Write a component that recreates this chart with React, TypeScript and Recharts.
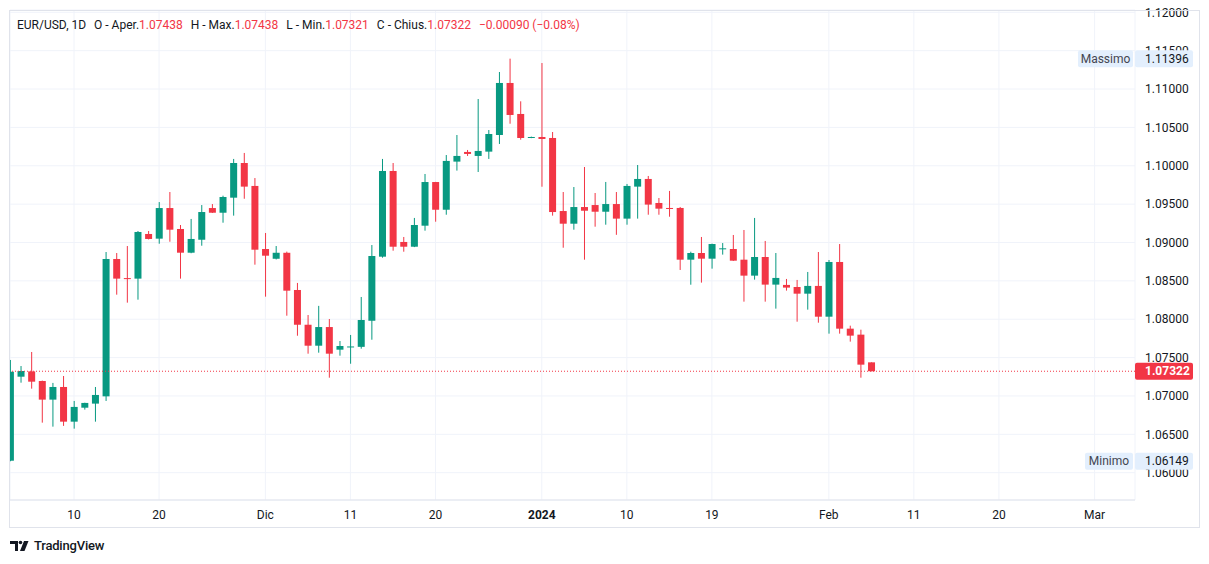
import { Bar, CartesianGrid, ComposedChart, ReferenceLine, XAxis, YAxis } from "recharts";

// EUR/USD daily candles, Nov 3 2023 -> Feb 6 2024 (index = bar number)
const opens = [
  1.06156, 1.07251, 1.0732, 1.07195, 1.06952, 1.07117, 1.06665, 1.06847, 1.069, 1.06995,
  1.08785, 1.08536, 1.08529, 1.09111, 1.0905, 1.09449, 1.09176, 1.08867, 1.09036, 1.09449,
  1.09388, 1.09584, 1.10036, 1.09737, 1.08915, 1.08788, 1.08866, 1.08381, 1.07928, 1.07655,
  1.07898, 1.07603, 1.0764, 1.0764, 1.0798, 1.08815, 1.09932, 1.09007, 1.08945, 1.09219,
  1.09788, 1.09427, 1.10054, 1.1018, 1.10128, 1.10184, 1.10401, 1.11079, 1.10675, 1.10362,
  1.10375, 1.10362, 1.0941, 1.09245, 1.09462, 1.09488, 1.09401, 1.09501, 1.09311, 1.09728,
  1.09828, 1.09515, 1.0945, 1.0945, 1.08776, 1.08863, 1.08789, 1.0892, 1.08915, 1.08776,
  1.08568, 1.08811, 1.08451, 1.08447, 1.0842, 1.08333, 1.08434, 1.08033, 1.08746, 1.07877,
  1.07799, 1.07438,
];
const highs = [
  1.07469, 1.0739, 1.07573, 1.072, 1.0717, 1.0726, 1.06935, 1.06912, 1.07117, 1.08876,
  1.08863, 1.08954, 1.0915, 1.0915, 1.09527, 1.09658, 1.09228, 1.09307, 1.09488, 1.09501,
  1.0961, 1.10089, 1.10167, 1.0984, 1.09124, 1.08954, 1.08881, 1.08473, 1.08055, 1.08174,
  1.08003, 1.07716, 1.07795, 1.0829, 1.08967, 1.10089, 1.10036, 1.09072, 1.0932, 1.09893,
  1.0979, 1.1014, 1.10401, 1.10206, 1.1087, 1.10466, 1.11222, 1.11396, 1.1084, 1.1038,
  1.11339, 1.1044, 1.09658, 1.09723, 1.09984, 1.09645, 1.09789, 1.09658, 1.09763, 1.1001,
  1.09867, 1.0958, 1.09672, 1.09463, 1.0888, 1.09072, 1.08985, 1.08993, 1.09098, 1.09163,
  1.0932, 1.0902, 1.08863, 1.08525, 1.08512, 1.08616, 1.08876, 1.08772, 1.0898, 1.07916,
  1.07864, 1.07438,
];
const lows = [
  1.06149, 1.07173, 1.07095, 1.06652, 1.066, 1.0661, 1.06574, 1.06822, 1.06665, 1.06935,
  1.0832, 1.08216, 1.08255, 1.0904, 1.08984, 1.0901, 1.08529, 1.0886, 1.08958, 1.09385,
  1.09258, 1.0935, 1.0957, 1.08711, 1.08294, 1.08779, 1.08046, 1.07785, 1.07551, 1.07564,
  1.07238, 1.07525, 1.0742, 1.07616, 1.07733, 1.08802, 1.08893, 1.0888, 1.0894, 1.09154,
  1.09271, 1.09362, 1.09937, 1.10128, 1.09919, 1.10089, 1.10284, 1.10548, 1.1034, 1.1036,
  1.09727, 1.0935, 1.08932, 1.09167, 1.08776, 1.09206, 1.09232, 1.091, 1.09232, 1.09311,
  1.09362, 1.09362, 1.09336, 1.08642, 1.0845, 1.08477, 1.08659, 1.08842, 1.0876, 1.08229,
  1.08516, 1.08229, 1.08138, 1.08373, 1.07968, 1.08125, 1.07955, 1.07812, 1.07812, 1.07708,
  1.07238, 1.07321,
];
const closes = [
  1.07316, 1.07325, 1.07186, 1.06952, 1.07117, 1.06665, 1.06857, 1.06909, 1.07013, 1.08785,
  1.08529, 1.08528, 1.09137, 1.09046, 1.09449, 1.09167, 1.08867, 1.09046, 1.09397, 1.09388,
  1.09593, 1.10036, 1.09728, 1.08906, 1.08828, 1.08866, 1.08372, 1.07928, 1.07655, 1.07898,
  1.07551, 1.07651, 1.07645, 1.0799, 1.08824, 1.09932, 1.08945, 1.08945, 1.09228, 1.09788,
  1.09427, 1.10063, 1.10128, 1.10154, 1.10193, 1.10414, 1.11079, 1.10662, 1.10362, 1.10375,
  1.10349, 1.09397, 1.09245, 1.09462, 1.09414, 1.09401, 1.09501, 1.09311, 1.09737, 1.09828,
  1.09494, 1.09441, 1.0944, 1.08776, 1.08863, 1.08789, 1.0898, 1.08924, 1.08763, 1.08568,
  1.08811, 1.08451, 1.08538, 1.08412, 1.08333, 1.08434, 1.08033, 1.08746, 1.07877, 1.07786,
  1.07408, 1.07322,
];

const timeTicks = [6, 14, 24, 32, 40, 50, 58, 66, 77, 85, 93, 102];
const timeLabels = ["10", "20", "Dic", "11", "20", "2024", "10", "19", "Feb", "11", "20", "Mar"];
const priceTicks = [
  1.06, 1.065, 1.07, 1.075, 1.08, 1.085, 1.09, 1.095, 1.1, 1.105, 1.11, 1.115, 1.12,
];

const lastPrice = 1.07322;
const maxPrice = 1.11396;
const minPrice = 1.06149;

const UP = "#089981";
const DOWN = "#F23645";
const TEXT = "#131722";
const FONT = "Roboto, 'Liberation Sans', sans-serif";
const X_DOMAIN: [number, number] = [-0.02, 105.8];
const Y_DOMAIN: [number, number] = [1.05644, 1.1203];

const data = opens.map((o, i) => ({
  i,
  open: o,
  high: highs[i],
  low: lows[i],
  close: closes[i],
  range: [lows[i], highs[i]],
}));

function Candle(props: any) {
  const { x, y, width, height, payload } = props;
  if (x == null || y == null || !payload) return null;
  const { open, close, high, low } = payload;
  const top = Math.min(y, y + height);
  const bottom = Math.max(y, y + height);
  const k = high > low ? (bottom - top) / (high - low) : 0;
  const yOf = (v: number) => top + (high - v) * k;
  const color = close >= open ? UP : DOWN;
  const cx = x + width / 2;
  const bTop = yOf(Math.max(open, close));
  const bH = Math.max(1, yOf(Math.min(open, close)) - bTop);
  return (
    <g>
      <rect x={cx - 0.5} y={top} width={1} height={Math.max(1, bottom - top)} fill={color} />
      <rect x={x} y={bTop} width={width} height={bH} fill={color} />
    </g>
  );
}

function PriceTag(props: any) {
  const { viewBox, value, name, bg, fg, bold } = props;
  if (!viewBox) return null;
  const right = viewBox.x + viewBox.width;
  const y = viewBox.y;
  const nameW = name ? name.length * 7 + 6 : 0;
  return (
    <g fontFamily={FONT} fontSize={12}>
      {name && <rect x={right - nameW - 2} y={y - 8.5} width={nameW} height={17} fill={bg} rx={2} />}
      {name && (
        <text x={right - 2 - nameW / 2} y={y} dy="0.35em" textAnchor="middle" fill="#434651">
          {name}
        </text>
      )}
      <rect x={right} y={y - 8.5} width={58} height={17} fill={bg} rx={2} />
      <text x={right + 10} y={y} dy="0.35em" fill={fg} fontWeight={bold ? 700 : 400}>
        {value.toFixed(5)}
      </text>
    </g>
  );
}

function Logo() {
  return (
    <div style={{ position: "absolute", left: 10, top: 538, display: "flex", alignItems: "center", gap: 4 }}>
      <svg width={20} height={14} viewBox="0 0 20 14">
        <path d="M0 2h8v10H5V5H0z" fill={TEXT} />
        <circle cx={10.5} cy={3.5} r={1.8} fill={TEXT} />
        <path d="M14 2h4.5l-4 10h-4.5z" fill={TEXT} />
      </svg>
      <span style={{ font: `500 13px ${FONT}`, color: TEXT, letterSpacing: -0.2 }}>TradingView</span>
    </div>
  );
}

export default function App() {
  const red = { color: DOWN };
  const gap = { marginLeft: 8 };
  return (
    <div style={{ position: "absolute", left: 0, top: 0, width: 1209, height: 564, background: "#fff", fontFamily: FONT }}>
      <ComposedChart
        width={1209}
        height={564}
        data={data}
        margin={{ top: 10, left: 10, right: 10, bottom: 37 }}
      >
        <CartesianGrid stroke="#F0F3FA" />
        <XAxis
          dataKey="i"
          type="number"
          domain={X_DOMAIN}
          allowDataOverflow
          ticks={timeTicks}
          height={27}
          tickLine={false}
          axisLine={{ stroke: "#E0E3EB" }}
          tickMargin={4}
          tick={(p: any) => {
            const label = timeLabels[timeTicks.indexOf(p.payload.value)];
            return (
              <text
                x={p.x}
                y={p.y}
                dy="0.71em"
                textAnchor="middle"
                fontFamily={FONT}
                fontSize={12}
                fontWeight={label === "2024" ? 700 : 400}
                fill={TEXT}
              >
                {label}
              </text>
            );
          }}
        />
        <YAxis
          orientation="right"
          type="number"
          domain={Y_DOMAIN}
          allowDataOverflow
          ticks={priceTicks}
          tickFormatter={(v: number) => v.toFixed(5)}
          width={64}
          tickLine={false}
          axisLine={false}
          tickMargin={4}
          tick={{ fontSize: 12, fill: TEXT, fontFamily: FONT }}
        />
        <Bar dataKey="range" barSize={7} shape={<Candle />} isAnimationActive={false} />
        <ReferenceLine y={lastPrice} stroke={DOWN} strokeDasharray="1 2" />
      </ComposedChart>

      {/* price tags drawn on top of the axis text */}
      <div style={{ position: "absolute", left: 0, top: 0 }}>
        <ComposedChart
          width={1209}
          height={564}
          data={data}
          margin={{ top: 10, left: 10, right: 74, bottom: 64 }}
        >
          <XAxis dataKey="i" type="number" domain={X_DOMAIN} allowDataOverflow hide />
          <YAxis type="number" domain={Y_DOMAIN} allowDataOverflow hide />
          <ReferenceLine
            y={lastPrice}
            stroke="none"
            strokeOpacity={0}
            label={<PriceTag value={lastPrice} bg={DOWN} fg="#ffffff" bold />}
          />
          <ReferenceLine
            y={maxPrice}
            stroke="none"
            strokeOpacity={0}
            label={<PriceTag value={maxPrice} name="Massimo" bg="#E3EFFD" fg={TEXT} />}
          />
          <ReferenceLine
            y={minPrice}
            stroke="none"
            strokeOpacity={0}
            label={<PriceTag value={minPrice} name="Minimo" bg="#E3EFFD" fg={TEXT} />}
          />
        </ComposedChart>
      </div>

      <div
        style={{
          position: "absolute",
          left: 9,
          top: 10,
          width: 1189,
          height: 516,
          border: "1px solid #E0E3EB",
          pointerEvents: "none",
        }}
      />
      <div style={{ position: "absolute", left: 17, top: 18, fontSize: 12, lineHeight: "14px", color: TEXT, whiteSpace: "nowrap" }}>
        EUR/USD, 1D<span style={gap}>O - Aper.</span>
        <span style={red}>1.07438</span>
        <span style={gap}>H - Max.</span>
        <span style={red}>1.07438</span>
        <span style={gap}>L - Min.</span>
        <span style={red}>1.07321</span>
        <span style={gap}>C - Chius.</span>
        <span style={red}>1.07322</span>
        <span style={{ ...red, ...gap }}>−0.00090 (−0.08%)</span>
      </div>
      <Logo />
    </div>
  );
}
